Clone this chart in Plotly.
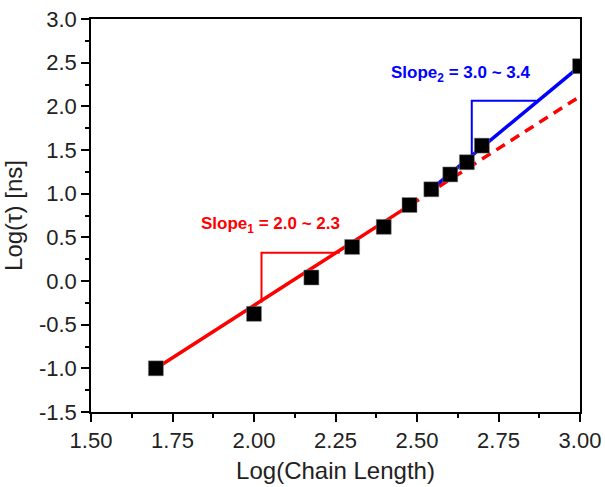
import plotly.graph_objects as go

# Data
log_chain = [1.699, 2.000, 2.176, 2.301, 2.398, 2.477, 2.544, 2.602, 2.653, 2.699, 3.000]
log_tau = [-1.00, -0.376, 0.04, 0.39, 0.62, 0.87, 1.05, 1.22, 1.36, 1.55, 2.46]

# Fit lines
red_solid_x = [1.70, 2.48]
red_solid_y = [-1.00, 0.872]
red_dash_x = [2.48, 2.99]
red_dash_y = [0.872, 2.09]
blue_x = [2.55, 3.00]
blue_y = [1.07, 2.46]

# Slope triangles
tri1_x = [2.023, 2.023, 2.263]
tri1_y = [-0.245, 0.323, 0.323]
tri2_x = [2.668, 2.668, 2.866]
tri2_y = [1.44, 2.065, 2.065]

FONT = "Liberation Sans, Arial, sans-serif"

fig = go.Figure()
fig.add_trace(go.Scatter(x=red_solid_x, y=red_solid_y, mode="lines",
                         line=dict(color="#ff0000", width=3.5), showlegend=False))
fig.add_trace(go.Scatter(x=red_dash_x, y=red_dash_y, mode="lines",
                         line=dict(color="#ff0000", width=3.5, dash="10px,7px"), showlegend=False))
fig.add_trace(go.Scatter(x=blue_x, y=blue_y, mode="lines",
                         line=dict(color="#0000ff", width=3.5), showlegend=False))
fig.add_trace(go.Scatter(x=tri1_x, y=tri1_y, mode="lines",
                         line=dict(color="#ff0000", width=2), showlegend=False))
fig.add_trace(go.Scatter(x=tri2_x, y=tri2_y, mode="lines",
                         line=dict(color="#0000ff", width=2), showlegend=False))
fig.add_trace(go.Scatter(x=log_chain, y=log_tau, mode="markers",
                         marker=dict(symbol="square", size=15, color="black",
                                     line=dict(color="#888888", width=0.5)),
                         showlegend=False))

fig.add_annotation(x=2.051, y=0.64, xref="x", yref="y", showarrow=False,
                   text="<b>Slope<sub>1</sub> = 2.0 ~ 2.3</b>",
                   font=dict(family=FONT, size=17, color="#ff0000"))
fig.add_annotation(x=2.633, y=2.37, xref="x", yref="y", showarrow=False,
                   text="<b>Slope<sub>2</sub> = 3.0 ~ 3.4</b>",
                   font=dict(family=FONT, size=17, color="#0000ff"))

axis_common = dict(showgrid=False, zeroline=False, showline=True, linecolor="black",
                   linewidth=1.5, mirror=True, ticks="outside", ticklen=8, tickwidth=1.5,
                   tickcolor="black", automargin=False,
                   tickfont=dict(family=FONT, size=22, color="#222"))

fig.update_xaxes(range=[1.5, 3.0], tickvals=[1.5, 1.75, 2.0, 2.25, 2.5, 2.75, 3.0],
                 ticktext=["1.50", "1.75", "2.00", "2.25", "2.50", "2.75", "3.00"],
                 title=dict(text="Log(Chain Length)", font=dict(family=FONT, size=24, color="#222"),
                            standoff=10),
                 minor=dict(ticks="outside", ticklen=4, tickwidth=1.5, tickcolor="black",
                            dtick=0.125, tick0=1.5),
                 **axis_common)
fig.update_yaxes(range=[-1.5, 3.0], tickvals=[-1.5, -1.0, -0.5, 0.0, 0.5, 1.0, 1.5, 2.0, 2.5, 3.0],
                 ticktext=["-1.5", "-1.0", "-0.5", "0.0", "0.5", "1.0", "1.5", "2.0", "2.5", "3.0"],
                 title=dict(text="Log(τ) [ns]", font=dict(family=FONT, size=24, color="#222"),
                            standoff=10),
                 minor=dict(ticks="outside", ticklen=4, tickwidth=1.5, tickcolor="black",
                            dtick=0.25, tick0=-1.5),
                 **axis_common)

fig.update_layout(width=605, height=487, plot_bgcolor="white", paper_bgcolor="white",
                  margin=dict(l=90.5, r=24.5, t=19, b=75))

fig.write_html("out.html", config={"displayModeBar": False},
               post_script="document.body.style.margin='0px';document.body.style.overflow='hidden';")
